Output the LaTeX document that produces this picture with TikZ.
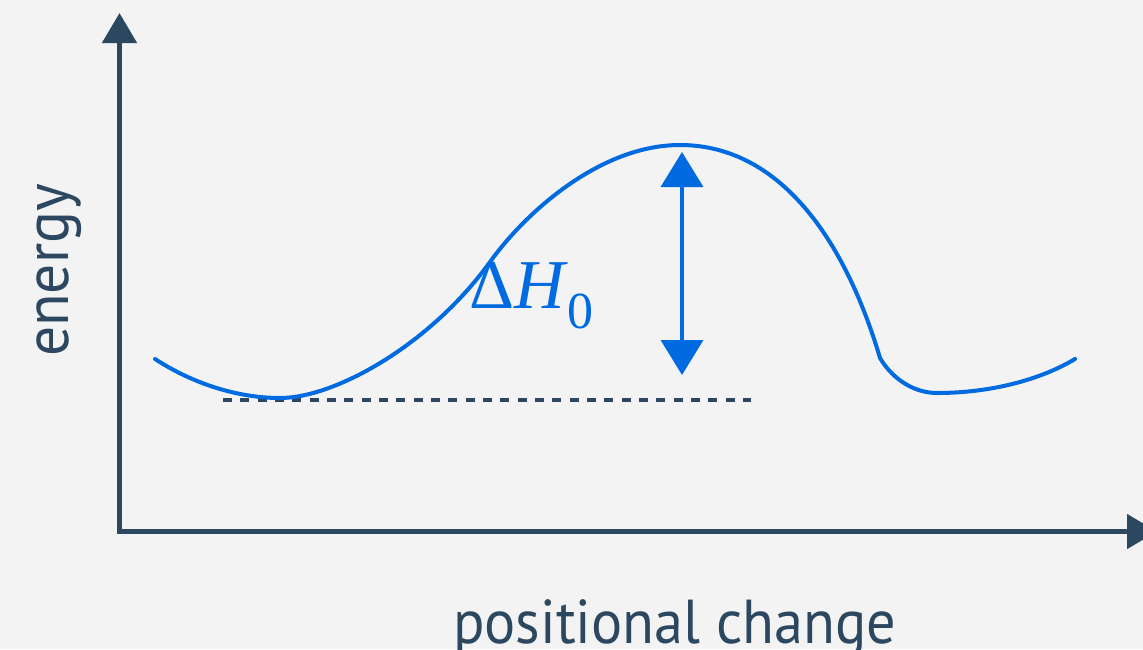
\documentclass[tikz,border=0pt]{standalone}
\usepackage{fontspec}
\setsansfont{PT Sans}
\newfontfamily\lserif{Liberation Serif}
\usetikzlibrary{arrows.meta}
\definecolor{bg}{HTML}{F3F3F3}
\definecolor{axiscol}{HTML}{2C4760}
\definecolor{curvecol}{HTML}{006BE0}
\tikzset{
  axisline/.style={draw=axiscol, line width=4.8pt, line join=miter,
    {Triangle[length=30pt,width=34pt]}-{Triangle[length=30pt,width=34pt]}},
  dashline/.style={draw=axiscol, line width=4pt, dash pattern=on 9pt off 8.33pt},
  curveline/.style={draw=curvecol, line width=4pt, line cap=round, line join=miter},
  dharrow/.style={draw=curvecol, line width=3.6pt,
    {Triangle[length=35pt,width=42pt]}-{Triangle[length=35pt,width=42pt]}},
  axislabel/.style={text=axiscol, font=\sffamily\fontsize{62}{62}\selectfont, inner sep=0pt},
  mathlabel/.style={text=curvecol, inner sep=0pt}
}
\begin{document}
\begin{tikzpicture}[x=1pt,y=-1pt]
\clip (0,0) rectangle (1143,649);
\fill[bg] (0,0) rectangle (1143,649);
% axes
\coordinate (O) at (119.5,531.5);
\coordinate (ytip) at (119.5,13);
\coordinate (xtip) at (1157,531.5);
\draw[axisline] (ytip) -- (O) -- (xtip);
% dashed reference level
\coordinate (dstart) at (223,400);
\coordinate (dend) at (751,400);
\draw[dashline] (dstart) -- (dend);
% energy curve
\draw[curveline] (155,359)
  .. controls (195,385) and (240,398) .. (280,398)
  .. controls (335,398) and (430,345) .. (490,262)
  .. controls (525,213) and (600,145) .. (680,145)
  .. controls (780,145) and (845,240) .. (880,358)
  .. controls (893,380) and (915,393) .. (937,393)
  .. controls (990,393) and (1040,380) .. (1075,359);
% double arrow
\coordinate (dtop) at (682,152);
\coordinate (dbot) at (682,375);
\draw[dharrow] (dtop) -- (dbot);
% labels
\node[axislabel, anchor=base west] (xlabel) at (453,643) {\scalebox{0.94}[1]{positional change}};
\node[axislabel, anchor=base west, rotate=90] (ylabel) at (68,357) {\scalebox{0.96}[1]{energy}};
\node[mathlabel, anchor=base west] (dh) at (469,308)
  {\lserif\fontsize{70}{70}\selectfont Δ\textit{H}\raisebox{-20pt}{\fontsize{52}{52}\selectfont 0}};
\end{tikzpicture}
\end{document}
